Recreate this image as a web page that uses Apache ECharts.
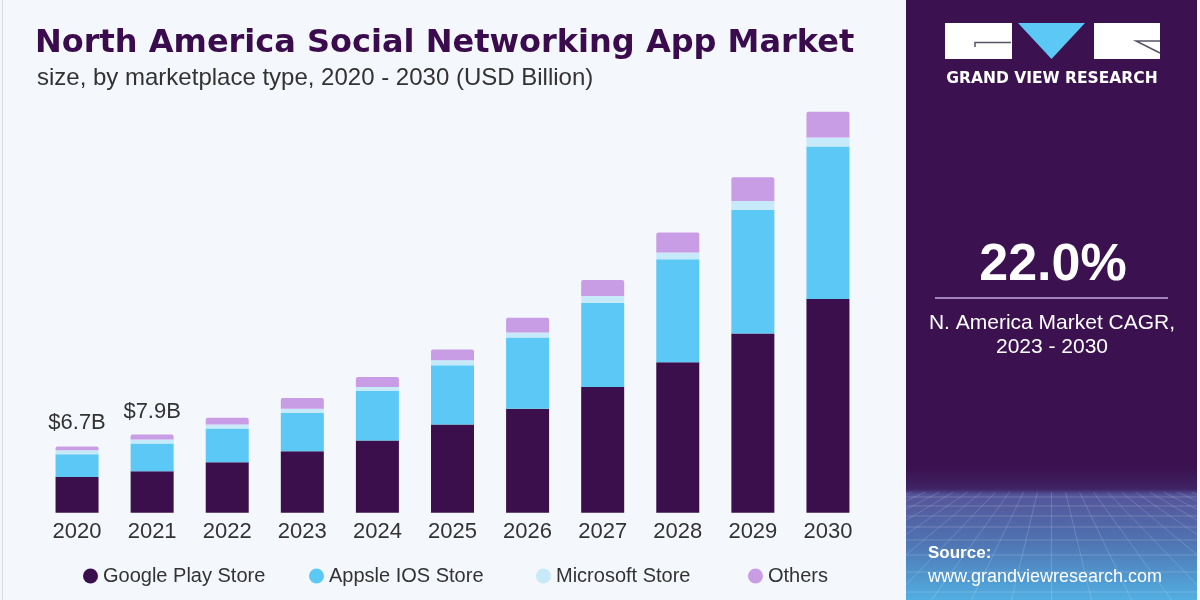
<!DOCTYPE html>
<html>
<head>
<meta charset="utf-8">
<script src="https://cdn.jsdelivr.net/npm/echarts@6/dist/echarts.min.js"></script>
<style>
html,body{margin:0;padding:0;background:#f4f7fb;}
#chart{width:1200px;height:600px;}
</style>
</head>
<body>
<div id="chart"></div>
<script>
// ---- data ----
const years = ['2020','2021','2022','2023','2024','2025','2026','2027','2028','2029','2030'];
const googlePlay = [3.6, 4.2, 5.1, 6.2, 7.3, 8.9, 10.5, 12.7, 15.2, 18.1, 21.6];
const appleIOS   = [2.3, 2.8, 3.4, 3.9, 5.0, 6.0, 7.2, 8.5, 10.4, 12.5, 15.4];
const microsoft  = [0.4, 0.4, 0.4, 0.4, 0.4, 0.5, 0.5, 0.7, 0.7, 0.9, 0.9];
const others     = [0.4, 0.5, 0.7, 1.1, 1.0, 1.1, 1.5, 1.6, 2.0, 2.4, 2.6];
const totalLabels = ['$6.7B', '$7.9B'];
const seriesNames = ['Google Play Store', 'Appsle IOS Store', 'Microsoft Store', 'Others'];
const cagrText = '22.0%';
const cagrCaption = ['N. America Market CAGR,', '2023 - 2030'];

const colors = ['#3b0f4c', '#5bc8f5', '#c6eaf9', '#c99de6'];
const PURPLE = '#3b1150';

const chart = echarts.init(document.getElementById('chart'), null, {renderer: 'canvas'});

// decorative perspective grid in the side panel
const panelX = 906, panelW = 291;
const gridEls = [];
const hLines = [497, 506, 516, 527, 540, 555, 572, 592];
hLines.forEach(y => gridEls.push({type: 'line', silent: true, shape: {x1: panelX, y1: y, x2: panelX + panelW, y2: y}, style: {stroke: 'rgba(255,255,255,0.18)', lineWidth: 1}}));
for (let i = -14; i <= 14; i++) {
  const cx = panelX + panelW / 2;
  gridEls.push({type: 'line', silent: true, shape: {x1: cx + i * 14, y1: 492, x2: cx + i * 40, y2: 600}, style: {stroke: 'rgba(255,255,255,0.16)', lineWidth: 1}});
}

const series = [googlePlay, appleIOS, microsoft, others].map((arr, idx) => ({
  name: seriesNames[idx],
  type: 'bar',
  stack: 'total',
  barWidth: 43,
  data: arr,
  itemStyle: {color: colors[idx], borderRadius: idx === 3 ? [2, 2, 0, 0] : 0},
  emphasis: {disabled: true},
  label: idx === 3 ? {
    show: true,
    position: 'top',
    distance: 12,
    fontFamily: 'Liberation Sans, Arial, sans-serif',
    fontSize: 22,
    color: '#333333',
    formatter: p => totalLabels[p.dataIndex] || ''
  } : {show: false}
}));

const legendLefts = [78, 304, 531, 743];
const legends = seriesNames.map((n, i) => ({
  data: [n],
  left: legendLefts[i],
  top: 561,
  icon: 'circle',
  itemWidth: 15,
  itemHeight: 15,
  itemGap: 10,
  selectedMode: false,
  textStyle: {fontFamily: 'Liberation Sans, Arial, sans-serif', fontSize: 20, color: '#333333', padding: [0, 0, 0, 0]}
}));

const option = {
  animation: false,
  backgroundColor: '#f4f7fb',
  color: colors,
  title: [
    {text: 'North America Social Networking App Market', left: 30, top: 23,
     textStyle: {fontFamily: 'DejaVu Sans, sans-serif', fontWeight: 'bold', fontSize: 32, color: '#3a0c4d'}},
    {text: 'size, by marketplace type, 2020 - 2030 (USD Billion)', left: 32, top: 61,
     textStyle: {fontFamily: 'Liberation Sans, Arial, sans-serif', fontWeight: 'normal', fontSize: 24, color: '#333333'}}
  ],
  legend: legends,
  grid: {left: 39.5, width: 826, top: 97, bottom: 87.3, containLabel: false},
  xAxis: {
    type: 'category',
    data: years,
    axisLine: {show: false},
    axisTick: {show: false},
    axisLabel: {fontFamily: 'Liberation Sans, Arial, sans-serif', fontSize: 22, color: '#333333', margin: 8}
  },
  yAxis: {type: 'value', min: 0, max: 42, show: false, splitLine: {show: false}},
  series: series,
  graphic: [
    {type: 'rect', z: 0, silent: true, shape: {x: 2, y: 0, width: 1, height: 600}, style: {fill: '#d9dbe0'}},
    {type: 'rect', z: 0, silent: true, shape: {x: panelX, y: 0, width: panelW, height: 600},
     style: {fill: new echarts.graphic.LinearGradient(0, 0, 0, 1, [
       {offset: 0, color: PURPLE},
       {offset: 0.78, color: PURPLE},
       {offset: 0.815, color: '#3f2466'},
       {offset: 0.825, color: '#55559a'},
       {offset: 0.9, color: '#4f72b0'},
       {offset: 1, color: '#52aee2'}
     ])}},
    {type: 'group', z: 1, children: gridEls},
    // logo
    {type: 'rect', z: 2, silent: true, shape: {x: 945, y: 23, width: 67, height: 36}, style: {fill: '#ffffff'}},
    {type: 'polygon', z: 2, silent: true, shape: {points: [[1018, 23], [1085, 23], [1051.5, 59]]}, style: {fill: '#5bc8f5'}},
    {type: 'rect', z: 2, silent: true, shape: {x: 1094, y: 23, width: 66, height: 36}, style: {fill: '#ffffff'}},
    {type: 'polyline', z: 3, silent: true, shape: {points: [[975, 47], [975, 42.5], [1011, 42.5]]}, style: {stroke: '#555566', lineWidth: 1.5, fill: null}},
    {type: 'polyline', z: 3, silent: true, shape: {points: [[1160, 41], [1136, 41], [1160, 53]]}, style: {stroke: '#555566', lineWidth: 1.5, fill: null}},
    {type: 'text', z: 3, silent: true, x: 1052, y: 79,
     style: {text: 'GRAND VIEW RESEARCH', fill: '#ffffff', font: 'bold 15.5px "DejaVu Sans", sans-serif', align: 'center', verticalAlign: 'middle'}},
    // CAGR
    {type: 'text', z: 3, silent: true, x: 1053, y: 266,
     style: {text: cagrText, fill: '#ffffff', font: 'bold 52px "Liberation Sans", Arial, sans-serif', align: 'center', verticalAlign: 'middle'}},
    {type: 'line', z: 3, silent: true, shape: {x1: 935, y1: 298, x2: 1168, y2: 298}, style: {stroke: '#c4abdc', lineWidth: 1.5}},
    {type: 'text', z: 3, silent: true, x: 1052, y: 323,
     style: {text: cagrCaption[0], fill: '#ffffff', font: '21px "Liberation Sans", Arial, sans-serif', align: 'center', verticalAlign: 'middle'}},
    {type: 'text', z: 3, silent: true, x: 1052, y: 347,
     style: {text: cagrCaption[1], fill: '#ffffff', font: '21px "Liberation Sans", Arial, sans-serif', align: 'center', verticalAlign: 'middle'}},
    // source
    {type: 'text', z: 3, silent: true, x: 928, y: 553,
     style: {text: 'Source:', fill: '#ffffff', font: 'bold 17px "Liberation Sans", Arial, sans-serif', align: 'left', verticalAlign: 'middle'}},
    {type: 'text', z: 3, silent: true, x: 928, y: 577,
     style: {text: 'www.grandviewresearch.com', fill: '#ffffff', font: '18px "Liberation Sans", Arial, sans-serif', align: 'left', verticalAlign: 'middle'}}
  ]
};
chart.setOption(option);
</script>
</body>
</html>
